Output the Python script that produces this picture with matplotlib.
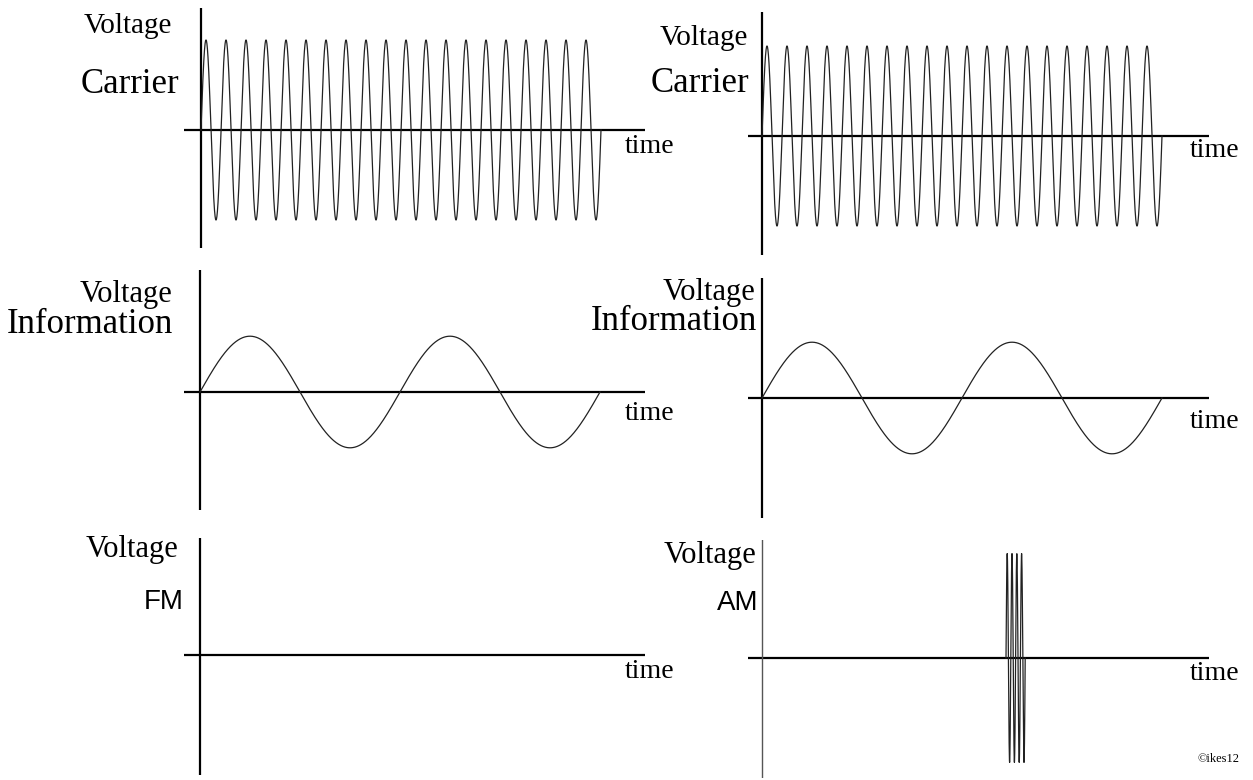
import numpy as np
import matplotlib.pyplot as plt

W, H = 1253, 780

# signal settings
carrier_cycles = 20        # cycles per time unit
carrier_end = 1.0
info_cycles = 2
info_amp = 0.62
info_end = 1.0
am_start, am_end = 0.61, 0.658
am_cycles = 4
am_amp = 1.16

# panel layout in pixels: origin, vertical axis span, horizontal axis span
panels = {
    'carrier_l': dict(origin=(201, 130), vspan=(8, 248), hspan=(184, 645)),
    'carrier_r': dict(origin=(762, 136), vspan=(12, 255), hspan=(748, 1209)),
    'info_l': dict(origin=(200, 392), vspan=(270, 510), hspan=(184, 645)),
    'info_r': dict(origin=(762, 398), vspan=(278, 518), hspan=(748, 1209)),
    'fm': dict(origin=(200, 655), vspan=(538, 775), hspan=(184, 645)),
    'am': dict(origin=(762, 658), vspan=(540, 778), hspan=(748, 1209)),
}
xunit, yunit = 400.0, 90.0   # pixels per time unit / voltage unit

serif = 'Liberation Serif'
sans = 'Liberation Sans'

fig = plt.figure(figsize=(W / 100, H / 100), dpi=100)


def make_panel(p, vcolor='black', vlw=1.6):
    ox, oy = p['origin']
    x0, x1 = p['hspan']
    y0, y1 = p['vspan']
    ax = fig.add_axes([x0 / W, 1 - y1 / H, (x1 - x0) / W, (y1 - y0) / H])
    ax.set_xlim((x0 - ox) / xunit, (x1 - ox) / xunit)
    ax.set_ylim(-(y1 - oy) / yunit, (oy - y0) / yunit)
    ax.axis('off')
    ax.axhline(0, color='black', lw=1.6)
    ax.axvline(0, color=vcolor, lw=vlw)
    return ax


def label(x, y, s, size, ha='right', family=serif):
    fig.text(x / W, 1 - y / H, s, ha=ha, va='baseline', fontsize=size, family=family)


for key in ['carrier_l', 'carrier_r']:
    ax = make_panel(panels[key])
    t = np.linspace(0, carrier_end, 4000)
    ax.plot(t, np.sin(2 * np.pi * carrier_cycles * t), color='#222222', lw=0.9)

for key in ['info_l', 'info_r']:
    ax = make_panel(panels[key])
    t = np.linspace(0, info_end, 1000)
    ax.plot(t, info_amp * np.sin(2 * np.pi * info_cycles * t), color='#222222', lw=0.9)

ax = make_panel(panels['fm'])

ax = make_panel(panels['am'], vcolor='#555555', vlw=1.0)
t = np.linspace(am_start, am_end, 400)
ax.plot(t, am_amp * np.sin(2 * np.pi * am_cycles * (t - am_start) / (am_end - am_start)),
        color='#222222', lw=0.9)

# texts
label(172, 33, 'Voltage', 21)
label(179, 93, 'Carrier', 25)
label(625, 153, 'time', 20, ha='left')

label(748, 45, 'Voltage', 21)
label(749, 92, 'Carrier', 25)
label(1190, 157, 'time', 20, ha='left')

label(172, 302, 'Voltage', 22)
label(173, 333, 'Information', 25)
label(625, 420, 'time', 20, ha='left')

label(755, 300, 'Voltage', 22)
label(757, 330, 'Information', 25)
label(1190, 428, 'time', 20, ha='left')

label(178, 557, 'Voltage', 22)
label(184, 609, 'FM', 20, family=sans)
label(625, 678, 'time', 20, ha='left')

label(756, 563, 'Voltage', 22)
label(758, 610, 'AM', 20, family=sans)
label(1190, 680, 'time', 20, ha='left')

label(1197, 762, '\u00a9ikes12', 9, ha='left')

fig.savefig('out.png', dpi=100)
